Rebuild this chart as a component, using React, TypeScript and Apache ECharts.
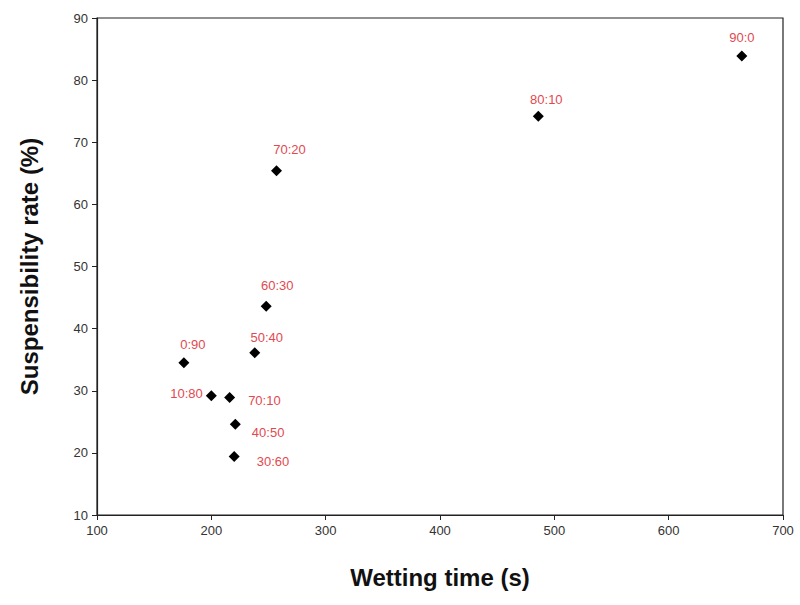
import React, { useEffect, useRef } from "react";
import * as echarts from "echarts";

const ratios = ["90:0", "80:10", "70:20", "60:30", "50:40", "0:90", "10:80", "70:10", "40:50", "30:60"];
const wettingTimes = [664, 486, 257, 248, 238, 176, 200, 216, 221, 220];
const suspensibility = [83.9, 74.2, 65.4, 43.6, 36.1, 34.5, 29.2, 28.9, 24.6, 19.4];

const xTicks = [100, 200, 300, 400, 500, 600, 700];
const yTicks = [10, 20, 30, 40, 50, 60, 70, 80, 90];

// label placement per point (style only)
const labelPlacement: Record<string, { position: string; offset: [number, number] }> = {
  "90:0": { position: "top", offset: [0, -1] },
  "80:10": { position: "top", offset: [8, 0] },
  "70:20": { position: "top", offset: [13, -4] },
  "60:30": { position: "top", offset: [11, -4] },
  "50:40": { position: "top", offset: [12, 2] },
  "0:90": { position: "top", offset: [9, -1] },
  "10:80": { position: "left", offset: [2, -2] },
  "70:10": { position: "right", offset: [8, 3] },
  "40:50": { position: "right", offset: [6, 8] },
  "30:60": { position: "right", offset: [12, 5] },
};

export default function App() {
  const ref = useRef<HTMLDivElement>(null);
  useEffect(() => {
    if (!ref.current) return;
    const chart = echarts.init(ref.current, null, { renderer: "svg" });
    const font = "Liberation Sans, Arial, sans-serif";
    const data = ratios.map((r, i) => ({
      value: [wettingTimes[i], suspensibility[i]],
      name: r,
      label: {
        show: true,
        formatter: r,
        position: labelPlacement[r].position,
        offset: labelPlacement[r].offset,
        distance: 5,
      },
    }));
    chart.setOption({
      animation: false,
      backgroundColor: "#ffffff",
      grid: { left: 97, right: 17, top: 18, bottom: 90, show: true, borderColor: "#222", borderWidth: 1.2 },
      xAxis: {
        type: "value",
        min: xTicks[0],
        max: xTicks[xTicks.length - 1],
        interval: 100,
        name: "Wetting time (s)",
        nameLocation: "middle",
        nameGap: 50,
        nameTextStyle: { fontFamily: font, fontSize: 24, fontWeight: "bold", color: "#111" },
        axisLine: { lineStyle: { color: "#222", width: 1.2 } },
        axisTick: { show: true, length: 5, inside: false, lineStyle: { color: "#222" } },
        axisLabel: { fontFamily: font, fontSize: 13, color: "#333", margin: 9 },
        splitLine: { show: false },
      },
      yAxis: {
        type: "value",
        min: yTicks[0],
        max: yTicks[yTicks.length - 1],
        interval: 10,
        name: "Suspensibility rate (%)",
        nameLocation: "middle",
        nameGap: 56,
        nameRotate: 90,
        nameTextStyle: { fontFamily: font, fontSize: 24, fontWeight: "bold", color: "#111" },
        axisLine: { lineStyle: { color: "#222", width: 1.2 } },
        axisTick: { show: true, length: 5, inside: false, lineStyle: { color: "#222" } },
        axisLabel: { fontFamily: font, fontSize: 13, color: "#333", margin: 9 },
        splitLine: { show: false },
      },
      series: [
        {
          type: "scatter",
          symbol: "diamond",
          symbolSize: 11,
          itemStyle: { color: "#000", opacity: 1 },
          label: { fontFamily: font, fontSize: 13, color: "#e2494f" },
          data,
        },
      ],
    });
    return () => chart.dispose();
  }, []);
  return <div ref={ref} style={{ width: 800, height: 605, position: "absolute", left: 0, top: 0 }} />;
}
